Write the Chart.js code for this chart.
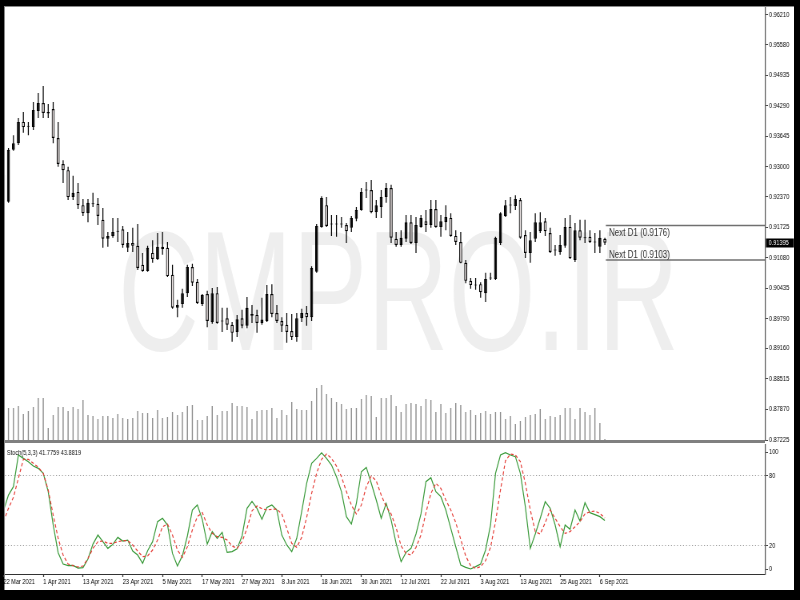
<!DOCTYPE html>
<html><head><meta charset="utf-8">
<script src="https://cdn.jsdelivr.net/npm/chart.js@4.4.1/dist/chart.umd.min.js"></script>
<style>
html,body{margin:0;padding:0;background:#000;width:800px;height:600px;overflow:hidden}
#frame{position:absolute;left:4px;top:6px;width:790px;height:584px;background:#fff;border-left:1px solid #8a8a8a;border-top:1px solid #8a8a8a;box-sizing:border-box}
#sep{position:absolute;left:5px;top:440px;width:760px;height:3px;background:#808080}
#main{position:absolute;left:0;top:7px;transform:scaleX(0.8);transform-origin:0 0}
#osc{position:absolute;left:0;top:444px;transform:scaleX(0.8);transform-origin:0 0}
</style></head><body>
<div id="frame"></div>
<div id="sep"></div>
<canvas id="osc" width="993" height="146"></canvas>
<canvas id="main" width="993" height="438"></canvas>
<script>
// ---------- DATA ----------
const dates = ['22 Mar 2021','1 Apr 2021','13 Apr 2021','23 Apr 2021','5 May 2021','17 May 2021','27 May 2021','8 Jun 2021','18 Jun 2021','30 Jun 2021','12 Jul 2021','22 Jul 2021','3 Aug 2021','13 Aug 2021','25 Aug 2021','6 Sep 2021'];
const dateBars = [0,8,16,24,32,40,48,56,64,72,80,88,96,104,112,120];
const priceTicks = [0.96210,0.95580,0.94935,0.94290,0.93645,0.93000,0.92370,0.91725,0.91080,0.90435,0.89790,0.89160,0.88515,0.87870,0.87225];
const stochTicks = [0,20,80,100];
const nextD1 = [0.9176,0.9103];

const open = [
.9230,.9226,.9336,.9350,.9395,.9386,.9384,.9418,.9435,.9413,
.9422,.9361,.9306,.9293,.9236,.9247,.9219,.9202,.9222,.9222,
.9188,.9148,.9154,.9164,.9168,.9129,.9139,.9133,.9093,.9080,
.9118,.9105,.9131,.9129,.9072,.9002,.9010,.9033,.9088,.9057,
.9010,.9031,.8972,.9033,.8974,.8980,.8966,.8951,.8980,.8964,
.8989,.8987,.8970,.8974,.9031,.8991,.8974,.8966,.8953,.8940,
.8980,.8991,.8982,.9078,.9173,.9219,.9179,.9179,.9179,.9177,
.9171,.9190,.9209,.9251,.9251,.9204,.9215,.9236,.9255,.9148,
.9135,.9148,.9183,.9139,.9173,.9185,.9177,.9211,.9173,.9183,
.9192,.9154,.9141,.9097,.9059,.9050,.9052,.9033,.9065,.9063,
.9139,.9196,.9219,.9217,.9230,.9156,.9118,.9148,.9164,.9185,
.9160,.9124,.9120,.9133,.9173,.9103,.9166,.9150,.9152,.9141,
.9131,.9148];
const high = [
.9298,.9340,.9367,.9403,.9416,.9395,.9437,.9456,.9471,.9433,
.9437,.9395,.9314,.9300,.9281,.9266,.9232,.9232,.9245,.9234,
.9213,.9162,.9192,.9192,.9175,.9162,.9171,.9179,.9118,.9133,
.9145,.9160,.9162,.9141,.9093,.9019,.9042,.9093,.9095,.9063,
.9031,.9038,.9044,.9046,.9002,.9002,.8972,.8987,.8998,.9025,
.9008,.8998,.9023,.9050,.9052,.9008,.8982,.8991,.8989,.8991,
.9000,.9006,.9090,.9179,.9238,.9236,.9198,.9198,.9194,.9181,
.9196,.9215,.9255,.9268,.9272,.9230,.9251,.9266,.9262,.9162,
.9166,.9198,.9198,.9194,.9198,.9209,.9230,.9230,.9198,.9219,
.9202,.9166,.9162,.9103,.9065,.9065,.9056,.9076,.9076,.9152,
.9204,.9230,.9236,.9240,.9234,.9166,.9162,.9202,.9204,.9192,
.9171,.9135,.9156,.9192,.9198,.9181,.9188,.9188,.9166,.9160,
.9166,.9150];
const low = [
.9219,.9224,.9334,.9346,.9372,.9367,.9378,.9403,.9403,.9403,
.9350,.9300,.9266,.9230,.9230,.9211,.9196,.9183,.9215,.9177,
.9129,.9131,.9150,.9141,.9129,.9120,.9120,.9082,.9078,.9078,
.9097,.9103,.9114,.9067,.9000,.8982,.9002,.9025,.9048,.9010,
.9006,.8961,.8968,.8968,.8951,.8955,.8930,.8940,.8959,.8959,
.8970,.8949,.8966,.8972,.8982,.8970,.8951,.8928,.8934,.8930,
.8972,.8964,.8974,.9076,.9171,.9173,.9154,.9152,.9171,.9139,
.9162,.9185,.9207,.9234,.9202,.9192,.9192,.9224,.9139,.9131,
.9131,.9141,.9137,.9118,.9171,.9162,.9171,.9171,.9152,.9166,
.9152,.9135,.9096,.9054,.9042,.9040,.9023,.9014,.9061,.9061,
.9135,.9194,.9202,.9209,.9148,.9107,.9097,.9141,.9160,.9154,
.9118,.9112,.9114,.9129,.9105,.9099,.9145,.9139,.9139,.9118,
.9118,.9135];
const close = [
.9283,.9336,.9350,.9395,.9384,.9385,.9420,.9435,.9414,.9416,
.9361,.9306,.9293,.9236,.9245,.9219,.9202,.9224,.9221,.9196,
.9148,.9154,.9162,.9163,.9135,.9139,.9133,.9086,.9080,.9129,
.9105,.9131,.9126,.9069,.9002,.9008,.9033,.9088,.9055,.9012,
.9029,.8974,.9033,.8970,.8973,.8966,.8949,.8978,.8964,.9002,
.8985,.8970,.8977,.9031,.8989,.8974,.8964,.8951,.8940,.8980,
.8991,.8982,.9086,.9175,.9234,.9175,.9178,.9178,.9178,.9164,
.9192,.9209,.9247,.9250,.9204,.9219,.9236,.9255,.9150,.9135,
.9150,.9183,.9139,.9177,.9192,.9177,.9211,.9173,.9185,.9194,
.9154,.9141,.9097,.9059,.9050,.9049,.9035,.9063,.9064,.9150,
.9202,.9219,.9218,.9232,.9150,.9118,.9145,.9183,.9183,.9164,
.9120,.9123,.9135,.9173,.9107,.9166,.9150,.9149,.9141,.9140,
.9150,.91395];
const volume = [
30000,32000,32000,34000,26000,29000,33000,42000,42000,12000,
25000,33000,33000,29000,33000,31000,40000,25000,24000,21000,
24000,24000,22000,26000,22000,21000,22000,29000,27000,27000,
22000,30000,22000,23000,28000,25000,28000,34000,35000,20000,
20000,24000,34000,25000,29000,29000,37000,34000,34000,33000,
21000,29000,30000,30000,32000,22000,30000,25000,38000,31000,
30000,30000,39000,52000,55000,46000,42000,38000,36000,31000,
32000,32000,41000,45000,44000,23000,42000,42000,45000,34000,
28000,36000,37000,36000,34000,41000,40000,28000,36000,27000,
32000,37000,35000,28000,30000,25000,27000,29000,26000,28000,
28000,21000,24000,16000,19000,23000,25000,26000,31000,21000,
24000,23000,25000,32000,32000,21000,32000,28000,25000,32000,
17000,1000];
const stochK = [
50.0,63.5,70.6,97.7,94.8,92.0,88.3,86.3,82.0,66.4,
37.9,14.2,4.5,3.1,3.4,1.1,1.4,8.8,21.6,29.3,
23.6,17.9,21.3,27.3,24.2,25.0,15.6,12.2,5.1,15.9,
23.6,40.7,43.6,37.9,13.6,2.8,11.7,28.5,50.7,55.0,
42.7,21.6,32.2,26.5,31.6,14.5,15.1,17.6,28.5,52.1,
58.0,52.0,42.7,52.8,55.0,50.7,29.3,20.8,15.1,26.5,
49.3,73.5,90.6,94.8,99.5,94.8,89.1,79.2,66.4,45.0,
38.7,56.4,83.4,87.1,73.5,59.2,43.6,56.4,42.1,22.2,
6.5,14.5,17.9,30.2,47.3,74.9,78.3,66.4,62.1,50.7,
35.0,19.3,3.7,1.7,0.3,2.3,4.5,16.5,37.9,82.0,
97.7,99.7,97.7,96.3,82.0,53.5,17.9,30.2,43.6,57.8,
52.1,37.9,19.3,37.9,34.2,50.7,41.3,56.9,48.4,46.7,
45.0,41.7759];
const stochD = [
40.7,52.1,61.5,77.8,94.0,94.0,90.6,87.2,82.0,67.8,
46.4,26.5,12.2,4.5,3.1,2.0,2.8,9.4,17.9,23.6,
24.2,22.2,22.2,23.6,24.5,24.5,20.8,15.6,10.8,11.4,
16.5,25.0,36.4,38.7,29.3,16.5,10.2,19.3,33.6,45.0,
48.4,37.9,30.7,27.9,27.3,25.0,19.9,17.9,23.6,35.0,
50.0,54.1,51.8,50.7,51.3,51.5,47.3,35.0,22.2,18.8,
27.3,44.4,64.9,82.0,94.0,98.5,94.8,88.3,79.2,66.4,
54.9,47.3,54.9,70.6,79.7,75.7,63.5,53.5,47.3,35.6,
19.9,13.6,12.2,18.8,29.3,48.4,64.9,73.5,69.2,59.2,
50.7,39.9,25.6,11.4,3.1,0.8,2.3,7.4,18.8,40.7,
67.8,92.8,98.5,97.7,92.0,73.5,50.7,32.2,30.2,39.9,
50.7,43.6,36.4,30.7,32.2,36.4,40.7,47.3,49.2,49.8,
47.8,43.8819];

// ---------- LAYOUT / STYLE ----------
const SX = 0.8;                       // horizontal squeeze applied by CSS
const FONT = '"Liberation Sans", Arial, sans-serif';
const X_MIN = 0.302, X_MAX = 153.22;
const CW = 993;
const PAD_L = 5 / SX;
const AXIS_W = CW - 765 / SX;
const N = close.length;
const idx = [...Array(N).keys()];

const wickData = idx.map(i => ({x:i, y:[low[i], high[i]]}));
const bodyData = idx.map(i => ({x:i, y:[Math.min(open[i],close[i]), Math.max(open[i],close[i])]}));
const bodyFill = idx.map(i => close[i] > open[i] ? '#000000' : '#f1e9e9');
const volData = idx.map(i => ({x:i, y:volume[i]}));
const kData = idx.map(i => ({x:i, y:stochK[i]}));
const dData = idx.map(i => ({x:i, y:stochD[i]}));

function fixY(s){ s.width = AXIS_W; s.paddingTop = 0; s.paddingBottom = 0; }

const mainDeco = {
  id:'mainDeco',
  beforeDatasetsDraw(chart){
    const {ctx, chartArea:a} = chart;
    ctx.save();
    ctx.beginPath(); ctx.rect(a.left, a.top, a.right-a.left, a.bottom-a.top); ctx.clip();
    ctx.fillStyle = '#eeeeee';
    ctx.font = '170px "Liberation Sans", Arial, sans-serif';
    ctx.textBaseline = 'alphabetic';
    ctx.translate(118 / SX, 343);
    ctx.scale(0.66 / SX, 1);
    ctx.fillText('CMPRO.IR', 0, 0);
    ctx.restore();
  },
  afterDatasetsDraw(chart){
    const {ctx} = chart; const y = chart.scales.y;
    ctx.save();
    ctx.fillStyle = '#333';
    ctx.font = '10px ' + FONT;
    ctx.textBaseline = 'middle';
    ctx.textAlign = 'left';
    ctx.fillText('Next D1 (' + nextD1[0].toFixed(4) + ')', 609 / SX, y.getPixelForValue(nextD1[0]) + 8);
    ctx.fillText('Next D1 (' + nextD1[1].toFixed(4) + ')', 609 / SX, y.getPixelForValue(nextD1[1]) - 5);
    ctx.restore();
  },
  afterDraw(chart){
    const {ctx} = chart; const y = chart.scales.y;
    const py = Math.round(y.getPixelForValue(close[N-1]));
    ctx.save();
    ctx.fillStyle = '#000';
    ctx.fillRect(766 / SX, py - 4.5, 28 / SX, 9);
    ctx.fillStyle = '#fff';
    ctx.font = '7px ' + FONT;
    ctx.textBaseline = 'middle';
    ctx.fillText(close[N-1].toFixed(5), 768.5 / SX, py);
    ctx.restore();
  }
};

new Chart(document.getElementById('main'), {
  type:'bar',
  data:{datasets:[
    {type:'line', data:[{x:N-0.8,y:nextD1[0]},{x:X_MAX,y:nextD1[0]}], borderColor:'#707070', borderWidth:1.5, pointRadius:0, yAxisID:'y', order:1, clip:0},
    {type:'line', data:[{x:N-0.8,y:nextD1[1]},{x:X_MAX,y:nextD1[1]}], borderColor:'#707070', borderWidth:1.5, pointRadius:0, yAxisID:'y', order:1, clip:0},
    {data:bodyData, backgroundColor:bodyFill, borderColor:'#000', borderWidth:1.2, borderSkipped:false, minBarLength:1, maxBarThickness:3.75, grouped:false, inflateAmount:0, yAxisID:'y', order:2, clip:0},
    {data:wickData, backgroundColor:'#000', borderWidth:0, maxBarThickness:1.25, grouped:false, inflateAmount:0, yAxisID:'y', order:3, clip:0},
    {data:volData, backgroundColor:'#8c8c8c', borderWidth:0, maxBarThickness:1.4, grouped:false, inflateAmount:0, yAxisID:'yv', order:4, clip:0}
  ]},
  options:{
    responsive:false, animation:false, devicePixelRatio:1, events:[],
    layout:{padding:{left:PAD_L,right:0,top:0,bottom:5}},
    plugins:{legend:{display:false}, tooltip:{enabled:false}},
    scales:{
      x:{type:'linear', min:X_MIN, max:X_MAX, display:false, offset:false, grid:{offset:false}},
      y:{type:'linear', position:'right', min:0.87225, max:0.96379,
         afterBuildTicks:s=>{ s.ticks = priceTicks.map(v=>({value:v})); },
         afterFit:fixY,
         ticks:{autoSkip:false, padding:1.25, color:'#000', font:{family:FONT,size:7}, callback:v=>Number(v).toFixed(5)},
         grid:{drawOnChartArea:false, tickLength:3.75, tickColor:'#444'},
         border:{display:true, color:'#555', width:1.25}},
      yv:{type:'linear', display:false, min:0, max:433000}
    }
  },
  plugins:[mainDeco]
});

const oscDeco = {
  id:'oscDeco',
  afterDraw(chart){
    const {ctx} = chart;
    ctx.save();
    ctx.fillStyle = '#111';
    ctx.font = '7px ' + FONT;
    ctx.textBaseline = 'middle';
    ctx.fillText('Stoch(5,3,3) ' + stochK[N-1].toFixed(4) + ' ' + stochD[N-1].toFixed(4), 7 / SX, 9.5);
    ctx.restore();
  }
};

new Chart(document.getElementById('osc'), {
  type:'line',
  data:{datasets:[
    {data:kData, borderColor:'#3a9a3a', borderWidth:1.2, pointRadius:0, tension:0, order:2, clip:0},
    {data:dData, borderColor:'#e5403a', borderWidth:1.2, borderDash:[3.5,2.5], pointRadius:0, tension:0, order:1, clip:0}
  ]},
  options:{
    responsive:false, animation:false, devicePixelRatio:1, events:[],
    layout:{padding:{left:PAD_L,right:0,top:0,bottom:0}},
    plugins:{legend:{display:false}, tooltip:{enabled:false}},
    scales:{
      x:{type:'linear', min:X_MIN, max:X_MAX, position:'bottom', offset:false,
         afterBuildTicks:s=>{ s.ticks = dateBars.map(v=>({value:v})); },
         afterFit:s=>{ s.height = 16; s.paddingLeft = 0; s.paddingRight = 0; },
         ticks:{autoSkip:false, maxRotation:0, minRotation:0, align:'start', padding:1, color:'#000', font:{family:FONT,size:7}, callback:(v,i)=>dates[i]},
         grid:{drawOnChartArea:false, tickLength:3, tickColor:'#333', tickWidth:1.25},
         border:{display:true, color:'#333', width:1}},
      y:{type:'linear', position:'right', min:-4, max:107.1,
         afterBuildTicks:s=>{ s.ticks = stochTicks.map(v=>({value:v})); },
         afterFit:fixY,
         ticks:{autoSkip:false, padding:1.25, color:'#000', font:{family:FONT,size:7}, callback:v=>String(v)},
         grid:{drawOnChartArea:true, tickLength:3.75, tickColor:'#444',
               color:c=> (c.tick && (c.tick.value===20 || c.tick.value===80)) ? '#a0a0a0' : 'rgba(0,0,0,0)'},
         border:{display:true, color:'#555', width:1.25, dash:[1.25,2.5]}}
    }
  },
  plugins:[oscDeco]
});
</script>
</body></html>
